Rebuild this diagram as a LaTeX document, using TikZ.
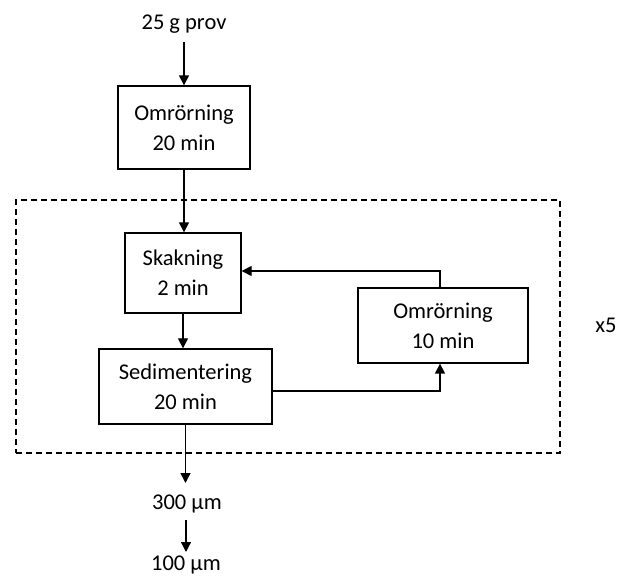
\documentclass[tikz,border=0pt]{standalone}
\usepackage{fontspec}
\setmainfont{Carlito}
\usetikzlibrary{arrows.meta}
\begin{document}
\begin{tikzpicture}[x=1pt,y=-1pt,
  every node/.style={font=\fontsize{22.5}{30}\selectfont, align=center},
  procbox/.style={draw, line width=1.3pt, inner sep=0pt},
  arr/.style={line width=1.3pt, -{Triangle[length=10pt,width=10pt]}},
  lbl/.style={inner sep=0pt, anchor=base}]
\useasboundingbox (0,0) rectangle (619,577);
\node[lbl] (prov) at (184,30) {25 g prov};
\node[procbox, minimum width=132pt, minimum height=83pt] (om1) at (184,127.5) {Omrörning\\20 min};
\node[draw, dash pattern=on 6pt off 4pt, line width=1.1pt, minimum width=544pt, minimum height=253pt, inner sep=0pt] (loop) at (288,326.5) {};
\node[procbox, minimum width=116pt, minimum height=80pt] (sk) at (183,273) {Skakning\\2 min};
\node[procbox, minimum width=173pt, minimum height=75pt] (sed) at (185.5,386.5) {Sedimentering\\20 min};
\node[procbox, minimum width=170pt, minimum height=75pt] (om2) at (443,325.5) {Omrörning\\10 min};
\node[lbl] (x5) at (606,333) {x5};
\node[lbl] (u300) at (187,509) {300 µm};
\node[lbl] (u100) at (186,570) {100 µm};
\draw[arr] (om1.north |- 0,42) -- (om1.north);
\draw[arr] (om1.south) -- (om1.south |- sk.north);
\draw[arr] (sk.south) -- (sk.south |- sed.north);
\draw[arr] ([yshift=-4.5pt]sed.east) -| ([xshift=-3pt]om2.south);
\draw[arr] ([xshift=-3pt]om2.north) |- ([yshift=2pt]sk.east);
\draw[arr] (sed.south) -- (sed.south |- 0,483);
\draw[arr] (u100.north |- 0,520) -- (u100.north |- 0,552);
\end{tikzpicture}
\end{document}
